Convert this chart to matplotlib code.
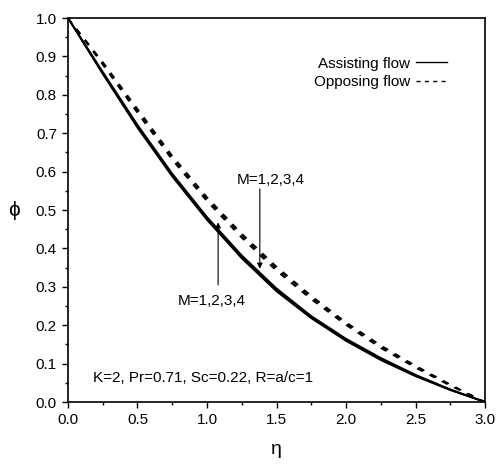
import matplotlib
matplotlib.use('Agg')
from matplotlib import pyplot as plt
from matplotlib.lines import Line2D
from matplotlib.ticker import MultipleLocator

plt.rcParams['font.family'] = ['Liberation Sans', 'DejaVu Sans']
plt.rcParams['font.size'] = 11

eta = [0.0, 0.25, 0.5, 0.75, 1.0, 1.25, 1.5, 1.75, 2.0, 2.25, 2.5, 2.75, 3.0]

# assisting flow, M = 1..4 (solid)
phi_assist = {
    1: [1.000, 0.854, 0.714, 0.587, 0.474, 0.374, 0.288, 0.218, 0.159, 0.109, 0.067, 0.031, 0.000],
    2: [1.000, 0.856, 0.717, 0.590, 0.477, 0.377, 0.291, 0.220, 0.161, 0.111, 0.068, 0.032, 0.000],
    3: [1.000, 0.858, 0.719, 0.592, 0.479, 0.379, 0.293, 0.222, 0.163, 0.113, 0.070, 0.032, 0.000],
    4: [1.000, 0.860, 0.722, 0.595, 0.482, 0.382, 0.296, 0.224, 0.165, 0.115, 0.071, 0.033, 0.000],
}

# opposing flow, M = 1..4 (dashed)
phi_oppose = {
    1: [1.000, 0.886, 0.764, 0.642, 0.534, 0.439, 0.353, 0.277, 0.208, 0.148, 0.095, 0.046, 0.000],
    2: [1.000, 0.884, 0.760, 0.638, 0.530, 0.435, 0.349, 0.274, 0.205, 0.145, 0.093, 0.045, 0.000],
    3: [1.000, 0.881, 0.756, 0.634, 0.526, 0.431, 0.345, 0.270, 0.203, 0.143, 0.091, 0.043, 0.000],
    4: [1.000, 0.878, 0.752, 0.630, 0.522, 0.427, 0.341, 0.267, 0.200, 0.140, 0.089, 0.042, 0.000],
}

dash = (0, (4.5, 5.5))

fig = plt.figure(figsize=(4.97, 4.68), dpi=100)
ax = fig.add_axes([0.1368, 0.141, 0.8391, 0.8205])

for m in phi_assist:
    ax.plot(eta, phi_assist[m], color='black', lw=1.2)
for m in phi_oppose:
    ax.plot(eta, phi_oppose[m], color='black', lw=1.0, linestyle=dash)

ax.set_xlim(0, 3)
ax.set_ylim(0, 1)
ax.xaxis.set_major_locator(MultipleLocator(0.5))
ax.xaxis.set_minor_locator(MultipleLocator(0.25))
ax.yaxis.set_major_locator(MultipleLocator(0.1))
ax.yaxis.set_minor_locator(MultipleLocator(0.05))
ax.xaxis.set_major_formatter(plt.FormatStrFormatter('%.1f'))
ax.yaxis.set_major_formatter(plt.FormatStrFormatter('%.1f'))
ax.tick_params(which='both', direction='out', width=1.0, top=False, right=False)
ax.tick_params(which='major', length=4.5, labelsize=11)
ax.tick_params(which='minor', length=2.5)
for s in ax.spines.values():
    s.set_linewidth(1.2)

ax.set_xlabel('η', fontsize=14, labelpad=10)
ax.set_ylabel('ϕ', fontsize=15, rotation=0, labelpad=16, va='center')

# M annotations
ax.annotate('', xy=(1.08, 0.468), xytext=(1.08, 0.305),
            arrowprops=dict(arrowstyle='-|>', color='black', lw=0.8,
                            mutation_scale=8, shrinkA=0, shrinkB=0))
ax.text(0.79, 0.263, 'M=1,2,3,4', va='center', ha='left', fontsize=11)
ax.annotate('', xy=(1.38, 0.347), xytext=(1.38, 0.555),
            arrowprops=dict(arrowstyle='-|>', color='black', lw=0.8,
                            mutation_scale=8, shrinkA=0, shrinkB=0))
ax.text(1.215, 0.578, 'M=1,2,3,4', va='center', ha='left', fontsize=11)

ax.text(0.18, 0.0625, 'K=2, Pr=0.71, Sc=0.22, R=a/c=1', va='center', ha='left', fontsize=11)

handles = [Line2D([], [], color='black', lw=1.0),
           Line2D([], [], color='black', lw=1.0, linestyle=(0, (3, 3)))]
ax.legend(handles, ['Assisting flow', 'Opposing flow'], loc='upper right',
          bbox_to_anchor=(0.908, 0.899), frameon=False, markerfirst=False,
          handlelength=2.0, handletextpad=0.4, labelspacing=0.3,
          borderpad=0, borderaxespad=0, fontsize=11)

fig.savefig('out.png', dpi=100)
